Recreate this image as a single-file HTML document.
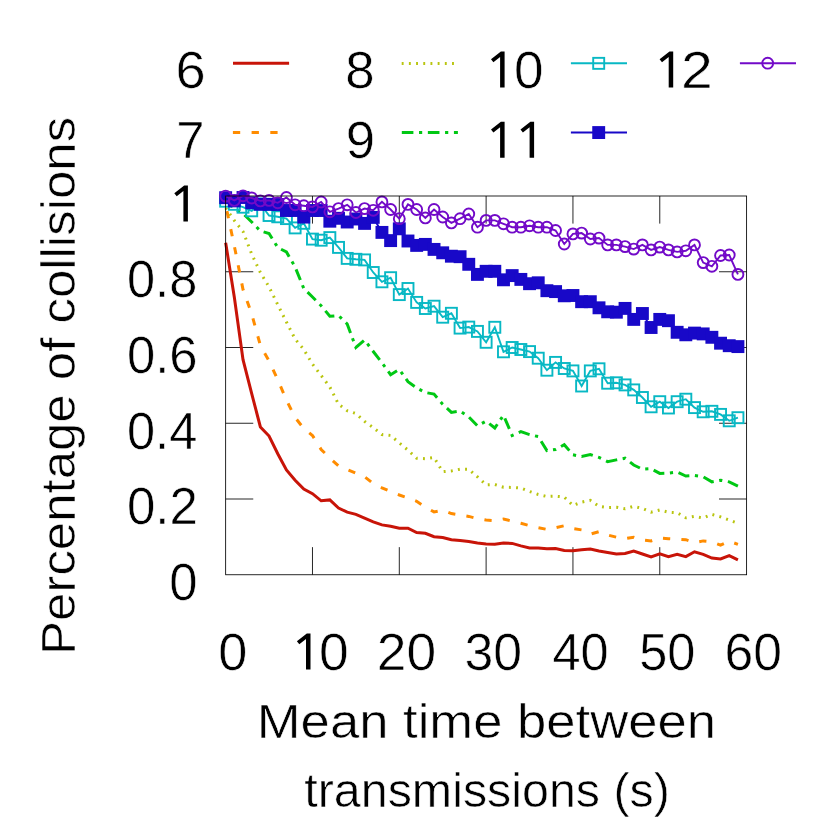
<!DOCTYPE html>
<html><head><meta charset="utf-8"><title>chart</title>
<style>
html,body{margin:0;padding:0;background:#fff;}
body{width:830px;height:830px;overflow:hidden;}
svg{display:block;}
text{font-family:"Liberation Sans",sans-serif;font-size:48px;fill:#000;stroke:#fff;stroke-width:0.55px;paint-order:fill stroke;}
</style></head><body>
<svg width="830" height="830" viewBox="0 0 830 830">
<rect width="830" height="830" fill="#fff"/>
<g id="legend">
<text transform="translate(175.49,87.60) scale(1.0626,1)" style="font-size:51px">6</text><line x1="233" y1="63.35" x2="289.1" y2="63.35" stroke="#c81408" stroke-width="3.0"/>
<text transform="translate(176.26,157.80) scale(0.9955,1)" style="font-size:51px">7</text><line x1="232.9" y1="132.5" x2="289.0" y2="132.5" stroke="#ff8c00" stroke-width="3.0" stroke-dasharray="7.3 11.4"/>
<text transform="translate(345.29,87.60) scale(1.0361,1)" style="font-size:51px">8</text><line x1="401.7" y1="63.4" x2="457.8" y2="63.4" stroke="#b9c50f" stroke-width="3.0" stroke-dasharray="1.9 5.29"/>
<text transform="translate(345.63,157.80) scale(1.0331,1)" style="font-size:51px">9</text><line x1="401.8" y1="132.5" x2="457.90000000000003" y2="132.5" stroke="#00c814" stroke-width="3.0" stroke-dasharray="11.6 5.6 3.2 5.66"/>
<path transform="translate(504.60,87.60)" d="M0,0 L0,-36.1 L-3.7,-36.1 L-13.6,-28.3 L-11.2,-25.4 L-4.5,-30.5 L-4.5,0 Z" fill="#000"/><text transform="translate(513.98,87.60) scale(1.0417,1)" style="font-size:51px">0</text><line x1="570.9" y1="63.2" x2="627.0" y2="63.2" stroke="#08b8c4" stroke-width="1.9"/>
<rect x="593.2" y="57.85" width="11.0" height="11.0" fill="none" stroke="#08b8c4" stroke-width="1.9"/>
<path transform="translate(504.60,157.80)" d="M0,0 L0,-36.1 L-3.7,-36.1 L-13.6,-28.3 L-11.2,-25.4 L-4.5,-30.5 L-4.5,0 Z" fill="#000"/><path transform="translate(534.10,157.80)" d="M0,0 L0,-36.1 L-3.7,-36.1 L-13.6,-28.3 L-11.2,-25.4 L-4.5,-30.5 L-4.5,0 Z" fill="#000"/><line x1="570.9" y1="132.5" x2="627.0" y2="132.5" stroke="#1808c8" stroke-width="1.9"/>
<rect x="592.25" y="126.10000000000001" width="12.9" height="12.9" fill="#1808c8"/>
<path transform="translate(673.20,87.60)" d="M0,0 L0,-36.1 L-3.7,-36.1 L-13.6,-28.3 L-11.2,-25.4 L-4.5,-30.5 L-4.5,0 Z" fill="#000"/><text transform="translate(681.04,87.60) scale(1.1204,1)" style="font-size:51px">2</text><line x1="739.9" y1="63.2" x2="796.0" y2="63.2" stroke="#720ac8" stroke-width="1.9"/>
<circle cx="767.7" cy="63.2" r="5.45" fill="none" stroke="#720ac8" stroke-width="1.9"/>
</g>
<g id="ticks" stroke="#000" stroke-width="0.85" fill="none">
<line x1="312.48" y1="574.75" x2="312.48" y2="547.15"/><line x1="312.48" y1="196.0" x2="312.48" y2="223.6"/>
<line x1="399.30" y1="574.75" x2="399.30" y2="547.15"/><line x1="399.30" y1="196.0" x2="399.30" y2="223.6"/>
<line x1="486.12" y1="574.75" x2="486.12" y2="547.15"/><line x1="486.12" y1="196.0" x2="486.12" y2="223.6"/>
<line x1="572.95" y1="574.75" x2="572.95" y2="547.15"/><line x1="572.95" y1="196.0" x2="572.95" y2="223.6"/>
<line x1="659.77" y1="574.75" x2="659.77" y2="547.15"/><line x1="659.77" y1="196.0" x2="659.77" y2="223.6"/>
<line x1="225.65" y1="499.00" x2="253.25" y2="499.00"/><line x1="746.6" y1="499.00" x2="719.0" y2="499.00"/>
<line x1="225.65" y1="423.25" x2="253.25" y2="423.25"/><line x1="746.6" y1="423.25" x2="719.0" y2="423.25"/>
<line x1="225.65" y1="347.50" x2="253.25" y2="347.50"/><line x1="746.6" y1="347.50" x2="719.0" y2="347.50"/>
<line x1="225.65" y1="271.75" x2="253.25" y2="271.75"/><line x1="746.6" y1="271.75" x2="719.0" y2="271.75"/>
</g>
<g id="series" fill="none" stroke-linejoin="miter">
<polyline points="225.65,242.70 234.33,297.20 243.02,359.60 251.70,393.60 260.38,427.00 269.06,436.00 277.75,453.70 286.43,470.00 295.11,480.20 303.79,489.10 312.48,493.70 321.16,500.80 329.84,499.90 338.52,508.00 347.20,512.20 355.89,514.40 364.57,518.10 373.25,521.80 381.94,524.90 390.62,526.20 399.30,528.20 407.98,528.20 416.66,532.50 425.35,533.30 434.03,536.70 442.71,537.50 451.39,539.70 460.08,540.50 468.76,541.40 477.44,542.90 486.12,543.90 494.81,544.30 503.49,542.90 512.17,543.40 520.86,545.90 529.54,548.00 538.22,548.00 546.90,548.80 555.58,548.50 564.27,550.50 572.95,550.70 581.63,549.80 590.31,549.00 599.00,551.00 607.68,552.40 616.36,553.90 625.04,553.50 633.73,551.00 642.41,554.00 651.09,556.90 659.77,553.90 668.46,556.60 677.14,554.40 685.82,556.60 694.50,551.80 703.19,554.40 711.87,558.10 720.55,558.90 729.24,555.60 737.92,559.80" stroke="#c81408" stroke-width="3.0"/>
<polyline points="225.65,205.00 234.33,246.00 243.02,289.50 251.70,314.00 260.38,345.50 269.06,361.00 277.75,379.80 286.43,400.00 295.11,417.50 303.79,428.50 312.48,435.50 321.16,449.50 329.84,458.00 338.52,465.90 347.20,469.50 355.89,473.10 364.57,476.80 373.25,483.50 381.94,487.80 390.62,491.60 399.30,495.00 407.98,497.90 416.66,501.30 425.35,507.20 434.03,511.90 442.71,510.20 451.39,513.60 460.08,514.90 468.76,516.40 477.44,518.60 486.12,520.00 494.81,520.60 503.49,519.00 512.17,521.20 520.86,523.30 529.54,525.70 538.22,527.70 546.90,529.40 555.58,527.70 564.27,525.70 572.95,528.60 581.63,529.90 590.31,534.10 599.00,531.60 607.68,535.00 616.36,537.20 625.04,538.70 633.73,537.20 642.41,540.00 651.09,540.90 659.77,538.00 668.46,538.70 677.14,539.20 685.82,539.70 694.50,542.60 703.19,540.90 711.87,541.70 720.55,545.10 729.24,541.20 737.92,544.30" stroke="#ff8c00" stroke-width="3.0" stroke-dasharray="7.25 11.19" stroke-dashoffset="12.2"/>
<polyline points="225.65,208.00 234.33,220.50 243.02,231.50 251.70,254.00 260.38,272.50 269.06,287.00 277.75,304.70 286.43,322.00 295.11,339.00 303.79,349.50 312.48,364.00 321.16,375.50 329.84,387.00 338.52,404.20 347.20,410.70 355.89,413.50 364.57,421.40 373.25,427.60 381.94,434.60 390.62,435.40 399.30,443.00 407.98,450.10 416.66,458.30 425.35,458.70 434.03,457.50 442.71,471.70 451.39,470.90 460.08,469.20 468.76,469.20 477.44,476.80 486.12,484.90 494.81,484.50 503.49,487.30 512.17,487.40 520.86,488.10 529.54,491.50 538.22,494.50 546.90,496.50 555.58,496.20 564.27,497.00 572.95,505.50 581.63,502.10 590.31,500.40 599.00,506.30 607.68,507.50 616.36,507.20 625.04,508.80 633.73,506.30 642.41,508.50 651.09,512.20 659.77,510.00 668.46,512.20 677.14,512.70 685.82,517.80 694.50,516.40 703.19,518.10 711.87,514.40 720.55,516.90 729.24,520.10 737.92,523.20" stroke="#b9c50f" stroke-width="3.0" stroke-dasharray="1.9 5.29"/>
<polyline points="225.65,198.00 234.33,209.00 243.02,213.50 251.70,222.00 260.38,231.00 269.06,233.50 277.75,247.50 286.43,252.00 295.11,267.00 303.79,288.50 312.48,297.00 321.16,305.80 329.84,316.30 338.52,315.50 347.20,324.00 355.89,347.40 364.57,340.00 373.25,351.50 381.94,362.70 390.62,374.70 399.30,369.40 407.98,381.70 416.66,387.90 425.35,392.50 434.03,394.10 442.71,404.30 451.39,412.40 460.08,411.00 468.76,416.90 477.44,425.80 486.12,421.10 494.81,428.00 503.49,415.20 512.17,435.50 520.86,431.60 529.54,434.60 538.22,436.60 546.90,450.60 555.58,449.50 564.27,444.70 572.95,454.80 581.63,456.50 590.31,454.50 599.00,457.40 607.68,461.60 616.36,459.90 625.04,458.20 633.73,465.00 642.41,469.20 651.09,468.70 659.77,473.40 668.46,473.10 677.14,472.10 685.82,476.00 694.50,475.50 703.19,476.80 711.87,481.90 720.55,480.20 729.24,481.90 737.92,486.10" stroke="#00c814" stroke-width="3.0" stroke-dasharray="11.53 5.56 3.18 5.63"/>
<polyline points="225.65,201.20 234.33,204.30 243.02,207.20 251.70,210.80 260.38,204.00 269.06,215.50 277.75,216.80 286.43,218.60 295.11,227.90 303.79,223.30 312.48,239.10 321.16,240.20 329.84,237.60 338.52,247.40 347.20,258.40 355.89,259.30 364.57,259.90 373.25,272.50 381.94,281.80 390.62,277.70 399.30,294.60 407.98,288.50 416.66,302.40 425.35,308.50 434.03,306.20 442.71,317.20 451.39,313.30 460.08,328.10 468.76,327.10 477.44,331.40 486.12,342.30 494.81,327.30 503.49,351.80 512.17,347.50 520.86,349.50 529.54,351.60 538.22,358.20 546.90,370.20 555.58,362.40 564.27,368.50 572.95,370.90 581.63,386.00 590.31,370.90 599.00,368.80 607.68,383.20 616.36,382.80 625.04,384.90 633.73,389.90 642.41,397.50 651.09,406.80 659.77,401.70 668.46,408.00 677.14,401.70 685.82,399.20 694.50,407.60 703.19,411.80 711.87,411.30 720.55,414.40 729.24,420.80 737.92,417.70" stroke="#08b8c4" stroke-width="1.9"/>
<g stroke="#08b8c4" stroke-width="1.9">
<rect x="220.15" y="195.70" width="11.0" height="11.0"/>
<rect x="228.83" y="198.80" width="11.0" height="11.0"/>
<rect x="237.52" y="201.70" width="11.0" height="11.0"/>
<rect x="246.20" y="205.30" width="11.0" height="11.0"/>
<rect x="254.88" y="198.50" width="11.0" height="11.0"/>
<rect x="263.56" y="210.00" width="11.0" height="11.0"/>
<rect x="272.25" y="211.30" width="11.0" height="11.0"/>
<rect x="280.93" y="213.10" width="11.0" height="11.0"/>
<rect x="289.61" y="222.40" width="11.0" height="11.0"/>
<rect x="298.29" y="217.80" width="11.0" height="11.0"/>
<rect x="306.98" y="233.60" width="11.0" height="11.0"/>
<rect x="315.66" y="234.70" width="11.0" height="11.0"/>
<rect x="324.34" y="232.10" width="11.0" height="11.0"/>
<rect x="333.02" y="241.90" width="11.0" height="11.0"/>
<rect x="341.70" y="252.90" width="11.0" height="11.0"/>
<rect x="350.39" y="253.80" width="11.0" height="11.0"/>
<rect x="359.07" y="254.40" width="11.0" height="11.0"/>
<rect x="367.75" y="267.00" width="11.0" height="11.0"/>
<rect x="376.44" y="276.30" width="11.0" height="11.0"/>
<rect x="385.12" y="272.20" width="11.0" height="11.0"/>
<rect x="393.80" y="289.10" width="11.0" height="11.0"/>
<rect x="402.48" y="283.00" width="11.0" height="11.0"/>
<rect x="411.16" y="296.90" width="11.0" height="11.0"/>
<rect x="419.85" y="303.00" width="11.0" height="11.0"/>
<rect x="428.53" y="300.70" width="11.0" height="11.0"/>
<rect x="437.21" y="311.70" width="11.0" height="11.0"/>
<rect x="445.89" y="307.80" width="11.0" height="11.0"/>
<rect x="454.58" y="322.60" width="11.0" height="11.0"/>
<rect x="463.26" y="321.60" width="11.0" height="11.0"/>
<rect x="471.94" y="325.90" width="11.0" height="11.0"/>
<rect x="480.62" y="336.80" width="11.0" height="11.0"/>
<rect x="489.31" y="321.80" width="11.0" height="11.0"/>
<rect x="497.99" y="346.30" width="11.0" height="11.0"/>
<rect x="506.67" y="342.00" width="11.0" height="11.0"/>
<rect x="515.36" y="344.00" width="11.0" height="11.0"/>
<rect x="524.04" y="346.10" width="11.0" height="11.0"/>
<rect x="532.72" y="352.70" width="11.0" height="11.0"/>
<rect x="541.40" y="364.70" width="11.0" height="11.0"/>
<rect x="550.08" y="356.90" width="11.0" height="11.0"/>
<rect x="558.77" y="363.00" width="11.0" height="11.0"/>
<rect x="567.45" y="365.40" width="11.0" height="11.0"/>
<rect x="576.13" y="380.50" width="11.0" height="11.0"/>
<rect x="584.81" y="365.40" width="11.0" height="11.0"/>
<rect x="593.50" y="363.30" width="11.0" height="11.0"/>
<rect x="602.18" y="377.70" width="11.0" height="11.0"/>
<rect x="610.86" y="377.30" width="11.0" height="11.0"/>
<rect x="619.54" y="379.40" width="11.0" height="11.0"/>
<rect x="628.23" y="384.40" width="11.0" height="11.0"/>
<rect x="636.91" y="392.00" width="11.0" height="11.0"/>
<rect x="645.59" y="401.30" width="11.0" height="11.0"/>
<rect x="654.27" y="396.20" width="11.0" height="11.0"/>
<rect x="662.96" y="402.50" width="11.0" height="11.0"/>
<rect x="671.64" y="396.20" width="11.0" height="11.0"/>
<rect x="680.32" y="393.70" width="11.0" height="11.0"/>
<rect x="689.00" y="402.10" width="11.0" height="11.0"/>
<rect x="697.69" y="406.30" width="11.0" height="11.0"/>
<rect x="706.37" y="405.80" width="11.0" height="11.0"/>
<rect x="715.05" y="408.90" width="11.0" height="11.0"/>
<rect x="723.74" y="415.30" width="11.0" height="11.0"/>
<rect x="732.42" y="412.20" width="11.0" height="11.0"/>
</g>
<polyline points="225.65,197.70 234.33,200.90 243.02,197.50 251.70,202.80 260.38,204.30 269.06,204.30 277.75,204.50 286.43,210.50 295.11,210.50 303.79,217.10 312.48,210.50 321.16,210.50 329.84,221.20 338.52,218.30 347.20,222.00 355.89,219.00 364.57,223.40 373.25,217.40 381.94,232.40 390.62,240.60 399.30,228.80 407.98,241.00 416.66,245.40 425.35,244.40 434.03,249.40 442.71,252.80 451.39,256.20 460.08,256.70 468.76,264.30 477.44,274.40 486.12,271.30 494.81,271.30 503.49,279.80 512.17,275.60 520.86,279.40 529.54,283.70 538.22,282.80 546.90,290.70 555.58,291.60 564.27,295.80 572.95,295.50 581.63,301.70 590.31,301.70 599.00,307.80 607.68,311.80 616.36,312.20 625.04,308.40 633.73,319.40 642.41,313.50 651.09,327.50 659.77,319.40 668.46,320.70 677.14,332.30 685.82,334.80 694.50,333.10 703.19,333.90 711.87,337.30 720.55,343.20 729.24,345.70 737.92,346.60" stroke="#1808c8" stroke-width="1.9"/>
<g fill="#1808c8" stroke="none">
<rect x="219.20" y="191.25" width="12.9" height="12.9"/>
<rect x="227.88" y="194.45" width="12.9" height="12.9"/>
<rect x="236.57" y="191.05" width="12.9" height="12.9"/>
<rect x="245.25" y="196.35" width="12.9" height="12.9"/>
<rect x="253.93" y="197.85" width="12.9" height="12.9"/>
<rect x="262.61" y="197.85" width="12.9" height="12.9"/>
<rect x="271.30" y="198.05" width="12.9" height="12.9"/>
<rect x="279.98" y="204.05" width="12.9" height="12.9"/>
<rect x="288.66" y="204.05" width="12.9" height="12.9"/>
<rect x="297.34" y="210.65" width="12.9" height="12.9"/>
<rect x="306.03" y="204.05" width="12.9" height="12.9"/>
<rect x="314.71" y="204.05" width="12.9" height="12.9"/>
<rect x="323.39" y="214.75" width="12.9" height="12.9"/>
<rect x="332.07" y="211.85" width="12.9" height="12.9"/>
<rect x="340.75" y="215.55" width="12.9" height="12.9"/>
<rect x="349.44" y="212.55" width="12.9" height="12.9"/>
<rect x="358.12" y="216.95" width="12.9" height="12.9"/>
<rect x="366.80" y="210.95" width="12.9" height="12.9"/>
<rect x="375.49" y="225.95" width="12.9" height="12.9"/>
<rect x="384.17" y="234.15" width="12.9" height="12.9"/>
<rect x="392.85" y="222.35" width="12.9" height="12.9"/>
<rect x="401.53" y="234.55" width="12.9" height="12.9"/>
<rect x="410.21" y="238.95" width="12.9" height="12.9"/>
<rect x="418.90" y="237.95" width="12.9" height="12.9"/>
<rect x="427.58" y="242.95" width="12.9" height="12.9"/>
<rect x="436.26" y="246.35" width="12.9" height="12.9"/>
<rect x="444.94" y="249.75" width="12.9" height="12.9"/>
<rect x="453.63" y="250.25" width="12.9" height="12.9"/>
<rect x="462.31" y="257.85" width="12.9" height="12.9"/>
<rect x="470.99" y="267.95" width="12.9" height="12.9"/>
<rect x="479.68" y="264.85" width="12.9" height="12.9"/>
<rect x="488.36" y="264.85" width="12.9" height="12.9"/>
<rect x="497.04" y="273.35" width="12.9" height="12.9"/>
<rect x="505.72" y="269.15" width="12.9" height="12.9"/>
<rect x="514.40" y="272.95" width="12.9" height="12.9"/>
<rect x="523.09" y="277.25" width="12.9" height="12.9"/>
<rect x="531.77" y="276.35" width="12.9" height="12.9"/>
<rect x="540.45" y="284.25" width="12.9" height="12.9"/>
<rect x="549.13" y="285.15" width="12.9" height="12.9"/>
<rect x="557.82" y="289.35" width="12.9" height="12.9"/>
<rect x="566.50" y="289.05" width="12.9" height="12.9"/>
<rect x="575.18" y="295.25" width="12.9" height="12.9"/>
<rect x="583.86" y="295.25" width="12.9" height="12.9"/>
<rect x="592.55" y="301.35" width="12.9" height="12.9"/>
<rect x="601.23" y="305.35" width="12.9" height="12.9"/>
<rect x="609.91" y="305.75" width="12.9" height="12.9"/>
<rect x="618.59" y="301.95" width="12.9" height="12.9"/>
<rect x="627.28" y="312.95" width="12.9" height="12.9"/>
<rect x="635.96" y="307.05" width="12.9" height="12.9"/>
<rect x="644.64" y="321.05" width="12.9" height="12.9"/>
<rect x="653.32" y="312.95" width="12.9" height="12.9"/>
<rect x="662.01" y="314.25" width="12.9" height="12.9"/>
<rect x="670.69" y="325.85" width="12.9" height="12.9"/>
<rect x="679.37" y="328.35" width="12.9" height="12.9"/>
<rect x="688.05" y="326.65" width="12.9" height="12.9"/>
<rect x="696.74" y="327.45" width="12.9" height="12.9"/>
<rect x="705.42" y="330.85" width="12.9" height="12.9"/>
<rect x="714.10" y="336.75" width="12.9" height="12.9"/>
<rect x="722.78" y="339.25" width="12.9" height="12.9"/>
<rect x="731.47" y="340.15" width="12.9" height="12.9"/>
</g>
<polyline points="225.65,196.10 234.33,200.40 243.02,195.80 251.70,198.00 260.38,200.90 269.06,200.40 277.75,202.80 286.43,197.50 295.11,204.80 303.79,205.70 312.48,206.90 321.16,202.00 329.84,211.80 338.52,208.60 347.20,204.80 355.89,212.50 364.57,208.60 373.25,210.30 381.94,201.90 390.62,209.50 399.30,218.70 407.98,204.40 416.66,209.50 425.35,217.90 434.03,209.50 442.71,217.00 451.39,222.90 460.08,218.70 468.76,214.00 477.44,227.20 486.12,220.40 494.81,220.40 503.49,223.80 512.17,227.20 520.86,227.20 529.54,225.80 538.22,227.20 546.90,227.20 555.58,230.50 564.27,244.00 572.95,233.90 581.63,233.10 590.31,239.00 599.00,238.10 607.68,244.90 616.36,244.90 625.04,246.60 633.73,249.10 642.41,244.90 651.09,249.90 659.77,247.10 668.46,249.90 677.14,251.90 685.82,250.80 694.50,244.90 703.19,262.60 711.87,266.30 720.55,255.50 729.24,255.00 737.92,274.40" stroke="#720ac8" stroke-width="1.9"/>
<g stroke="#720ac8" stroke-width="1.9">
<circle cx="225.65" cy="196.10" r="5.45"/>
<circle cx="234.33" cy="200.40" r="5.45"/>
<circle cx="243.02" cy="195.80" r="5.45"/>
<circle cx="251.70" cy="198.00" r="5.45"/>
<circle cx="260.38" cy="200.90" r="5.45"/>
<circle cx="269.06" cy="200.40" r="5.45"/>
<circle cx="277.75" cy="202.80" r="5.45"/>
<circle cx="286.43" cy="197.50" r="5.45"/>
<circle cx="295.11" cy="204.80" r="5.45"/>
<circle cx="303.79" cy="205.70" r="5.45"/>
<circle cx="312.48" cy="206.90" r="5.45"/>
<circle cx="321.16" cy="202.00" r="5.45"/>
<circle cx="329.84" cy="211.80" r="5.45"/>
<circle cx="338.52" cy="208.60" r="5.45"/>
<circle cx="347.20" cy="204.80" r="5.45"/>
<circle cx="355.89" cy="212.50" r="5.45"/>
<circle cx="364.57" cy="208.60" r="5.45"/>
<circle cx="373.25" cy="210.30" r="5.45"/>
<circle cx="381.94" cy="201.90" r="5.45"/>
<circle cx="390.62" cy="209.50" r="5.45"/>
<circle cx="399.30" cy="218.70" r="5.45"/>
<circle cx="407.98" cy="204.40" r="5.45"/>
<circle cx="416.66" cy="209.50" r="5.45"/>
<circle cx="425.35" cy="217.90" r="5.45"/>
<circle cx="434.03" cy="209.50" r="5.45"/>
<circle cx="442.71" cy="217.00" r="5.45"/>
<circle cx="451.39" cy="222.90" r="5.45"/>
<circle cx="460.08" cy="218.70" r="5.45"/>
<circle cx="468.76" cy="214.00" r="5.45"/>
<circle cx="477.44" cy="227.20" r="5.45"/>
<circle cx="486.12" cy="220.40" r="5.45"/>
<circle cx="494.81" cy="220.40" r="5.45"/>
<circle cx="503.49" cy="223.80" r="5.45"/>
<circle cx="512.17" cy="227.20" r="5.45"/>
<circle cx="520.86" cy="227.20" r="5.45"/>
<circle cx="529.54" cy="225.80" r="5.45"/>
<circle cx="538.22" cy="227.20" r="5.45"/>
<circle cx="546.90" cy="227.20" r="5.45"/>
<circle cx="555.58" cy="230.50" r="5.45"/>
<circle cx="564.27" cy="244.00" r="5.45"/>
<circle cx="572.95" cy="233.90" r="5.45"/>
<circle cx="581.63" cy="233.10" r="5.45"/>
<circle cx="590.31" cy="239.00" r="5.45"/>
<circle cx="599.00" cy="238.10" r="5.45"/>
<circle cx="607.68" cy="244.90" r="5.45"/>
<circle cx="616.36" cy="244.90" r="5.45"/>
<circle cx="625.04" cy="246.60" r="5.45"/>
<circle cx="633.73" cy="249.10" r="5.45"/>
<circle cx="642.41" cy="244.90" r="5.45"/>
<circle cx="651.09" cy="249.90" r="5.45"/>
<circle cx="659.77" cy="247.10" r="5.45"/>
<circle cx="668.46" cy="249.90" r="5.45"/>
<circle cx="677.14" cy="251.90" r="5.45"/>
<circle cx="685.82" cy="250.80" r="5.45"/>
<circle cx="694.50" cy="244.90" r="5.45"/>
<circle cx="703.19" cy="262.60" r="5.45"/>
<circle cx="711.87" cy="266.30" r="5.45"/>
<circle cx="720.55" cy="255.50" r="5.45"/>
<circle cx="729.24" cy="255.00" r="5.45"/>
<circle cx="737.92" cy="274.40" r="5.45"/>
</g>
</g>
<rect x="225.65" y="196.0" width="520.95" height="378.75" fill="none" stroke="#000" stroke-width="0.85"/>
<g id="ylabels">
<text transform="translate(169.37,600.20) scale(0.9967,1)" style="font-size:51px">0</text>
<text transform="translate(126.96,524.48) scale(1.0000,1)" style="font-size:51px">0.2</text>
<text transform="translate(126.98,448.76) scale(0.9915,1)" style="font-size:51px">0.4</text>
<text transform="translate(126.97,373.04) scale(0.9969,1)" style="font-size:51px">0.6</text>
<text transform="translate(126.98,297.32) scale(0.9924,1)" style="font-size:51px">0.8</text>
<path transform="translate(187.90,221.60)" d="M0,0 L0,-36.1 L-3.7,-36.1 L-13.6,-28.3 L-11.2,-25.4 L-4.5,-30.5 L-4.5,0 Z" fill="#000"/>
</g>
<g id="xlabels">
<text transform="translate(218.31,669.60) scale(1.0253,1)" style="font-size:51px">0</text>
<path transform="translate(310.50,669.60)" d="M0,0 L0,-36.1 L-3.7,-36.1 L-13.6,-28.3 L-11.2,-25.4 L-4.5,-30.5 L-4.5,0 Z" fill="#000"/><text transform="translate(319.07,669.60) scale(1.0458,1)" style="font-size:51px">0</text>
<text transform="translate(376.83,669.60) scale(1.0464,1)" style="font-size:51px">20</text>
<text transform="translate(464.53,669.60) scale(1.0154,1)" style="font-size:51px">30</text>
<text transform="translate(552.49,669.60) scale(0.9906,1)" style="font-size:51px">40</text>
<text transform="translate(639.18,669.60) scale(0.9908,1)" style="font-size:51px">50</text>
<text transform="translate(724.61,669.60) scale(1.0139,1)" style="font-size:51px">60</text>
</g>
<text transform="translate(256.79,737.70) scale(1.0963,1)" style="font-size:48px">Mean time between</text>
<text transform="translate(304.27,807.10) scale(1.0082,1)" style="font-size:48px">transmissions (s)</text>
<text transform="translate(75,654.88) rotate(-90) scale(1.0615,1)" style="font-size:48px">Percentage of collisions</text>
</svg></body></html>
